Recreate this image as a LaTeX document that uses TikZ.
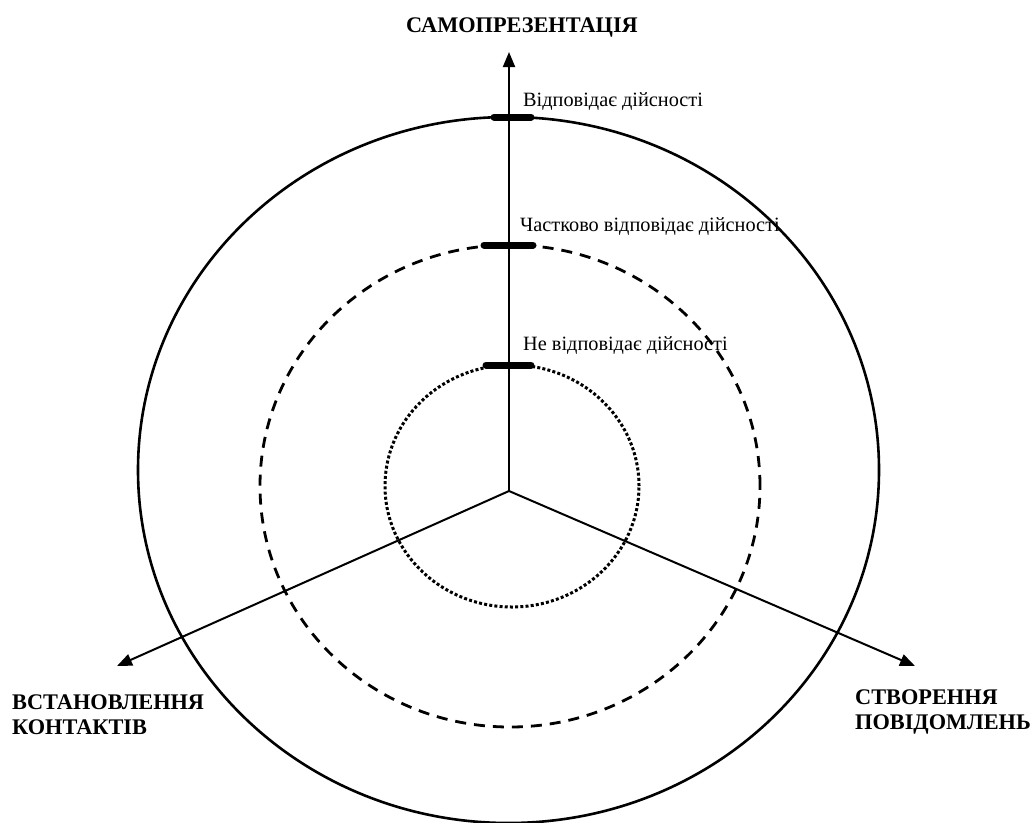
\documentclass[tikz,border=0pt]{standalone}
\usepackage{fontspec}
\setmainfont{Liberation Serif}
\usetikzlibrary{arrows.meta}
\tikzset{
  axis/.style={line width=2pt,-{Triangle[length=15pt,width=12pt]}},
  ring/.style={line width=2.6pt},
  dashring/.style={line width=2.8pt,dash pattern=on 11pt off 8pt},
  dotring/.style={line width=3pt,dash pattern=on 3pt off 2.2pt},
  marker/.style={line width=7pt,line cap=round},
  lvl/.style={font=\fontsize{20.3}{24}\selectfont,inner sep=0pt,anchor=base west},
  axlabel/.style={font=\fontsize{22.3}{25}\selectfont\bfseries,inner sep=0pt,align=left}
}
\begin{document}
\begin{tikzpicture}[x=1pt,y=-1pt]
\useasboundingbox (0,0) rectangle (1032,822);
\begin{scope}
\clip (0,0) rectangle (1032,822);
\draw[ring] (508.5,470) ellipse [x radius=370.5pt, y radius=353pt];
\end{scope}
\draw[dashring] (510,486) ellipse [x radius=250pt, y radius=241pt];
\draw[dotring] (512,486) ellipse [x radius=127pt, y radius=121pt];

\coordinate (O) at (509,491);
\coordinate (T) at (509,52);
\coordinate (L) at (117,666);
\coordinate (R) at (915,666);
\draw[axis] (O) -- (T);
\draw[axis] (O) -- (L);
\draw[axis] (O) -- (R);

\coordinate (m1a) at (494,117); \coordinate (m1b) at (531,117);
\coordinate (m2a) at (484,245); \coordinate (m2b) at (533,245);
\coordinate (m3a) at (486,365); \coordinate (m3b) at (531,365);
\draw[marker] (m1a) -- (m1b);
\draw[marker] (m2a) -- (m2b);
\draw[marker] (m3a) -- (m3b);

\node[lvl] (l1) at (523,106) {Відповідає дійсності};
\node[lvl] (l2) at (520,231) {Частково відповідає дійсності};
\node[lvl] (l3) at (523,350) {Не відповідає дійсності};

\node[axlabel,anchor=base] (top) at (522,32) {САМОПРЕЗЕНТАЦІЯ};
\node[axlabel,anchor=north west] (left) at (12,695) {ВСТАНОВЛЕННЯ\\КОНТАКТІВ};
\node[axlabel,anchor=north west] (right) at (855,690) {СТВОРЕННЯ\\ПОВІДОМЛЕНЬ};
\end{tikzpicture}
\end{document}
